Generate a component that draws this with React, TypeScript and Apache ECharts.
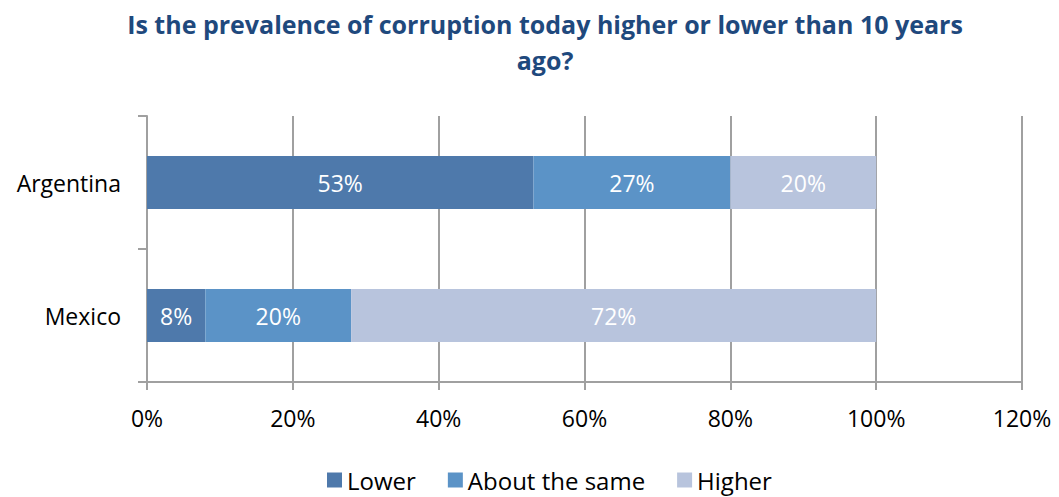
import React, { useEffect, useRef } from "react";
import * as echarts from "echarts";

const categories = ["Mexico", "Argentina"];
const seriesNames = ["Lower", "About the same", "Higher"];
const lowerValues = [8, 53];
const sameValues = [20, 27];
const higherValues = [72, 20];
const colors = ["#4E79AB", "#5B93C7", "#B8C4DD"];
const titleText = "Is the prevalence of corruption today higher or lower than 10 years\nago?";

export default function App() {
  const ref = useRef<HTMLDivElement>(null);
  useEffect(() => {
    const chart = echarts.init(ref.current!, null, { renderer: "svg" });
    const values = [lowerValues, sameValues, higherValues];
    const font = "'Open Sans', 'Noto Sans', sans-serif";
    chart.setOption({
      animation: false,
      backgroundColor: "#ffffff",
      title: {
        text: titleText,
        left: 540,
        textAlign: "center",
        top: 1,
        textStyle: {
          color: "#1F497D",
          fontSize: 25,
          fontWeight: "bold",
          fontFamily: font,
          lineHeight: 36,
        },
      },
      legend: {
        bottom: 0,
        left: 322,
        itemWidth: 15,
        itemHeight: 15,
        itemGap: 32,
        icon: "rect",
        textStyle: { fontSize: 24, color: "#000", fontFamily: font },
        data: seriesNames,
      },
      grid: { left: 147, right: 37, top: 116, bottom: 115, containLabel: false },
      xAxis: {
        type: "value",
        min: 0,
        max: 120,
        interval: 20,
        axisLabel: {
          formatter: "{value}%",
          fontSize: 23,
          color: "#000",
          margin: 24,
          fontFamily: font,
        },
        axisLine: { show: true, lineStyle: { color: "#A0A0A0", width: 2 } },
        axisTick: { show: true, length: 8, lineStyle: { color: "#A0A0A0", width: 2 } },
        splitLine: { show: true, lineStyle: { color: "#A0A0A0", width: 2 } },
      },
      yAxis: {
        type: "category",
        data: categories,
        axisLabel: { fontSize: 23, color: "#000", margin: 26, fontFamily: font },
        axisLine: { show: true, lineStyle: { color: "#A0A0A0", width: 2 } },
        axisTick: { show: true, length: 9, lineStyle: { color: "#A0A0A0", width: 2 } },
      },
      series: seriesNames.map((name, i) => ({
        name,
        type: "bar",
        stack: "total",
        barWidth: 53,
        data: values[i],
        itemStyle: { color: colors[i] },
        label: {
          show: true,
          position: "inside",
          formatter: "{c}%",
          color: "#fff",
          fontSize: 23,
          fontFamily: font,
        },
      })),
    });
    return () => chart.dispose();
  }, []);
  return (
    <div
      ref={ref}
      style={{ position: "absolute", left: 0, top: 0, width: 1059, height: 497 }}
    />
  );
}
